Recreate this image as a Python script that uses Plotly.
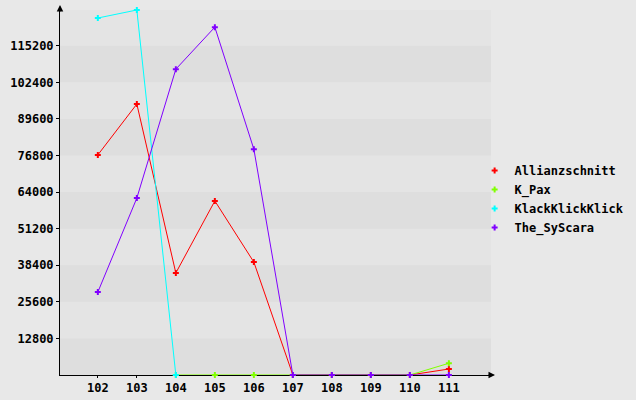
import plotly.graph_objects as go

x_all = [102, 103, 104, 105, 106, 107, 108, 109, 110, 111]

allianz_x = [102, 103, 104, 105, 106, 107, 108, 109, 110, 111]
allianz_y = [77000, 94800, 35700, 60900, 39500, 0, 0, 0, 0, 2100]

kpax_x = [104, 105, 106, 107, 108, 109, 110, 111]
kpax_y = [0, 0, 0, 0, 0, 0, 0, 4100]

klack_x = [102, 103, 104]
klack_y = [124900, 127700, 0]

sys_x = [102, 103, 104, 105, 106, 107, 108, 109, 110, 111]
sys_y = [29000, 61900, 107000, 121700, 79000, 0, 0, 0, 0, 0]

y_ticks = [12800, 25600, 38400, 51200, 64000, 76800, 89600, 102400, 115200]
y_max = 127700

series = [
    ("Allianzschnitt", allianz_x, allianz_y, "#ff0000"),
    ("K_Pax", kpax_x, kpax_y, "#80ff00"),
    ("KlackKlickKlick", klack_x, klack_y, "#00ffff"),
    ("The_SyScara", sys_x, sys_y, "#8000ff"),
]

FONT = dict(family="DejaVu Sans Mono", size=12, color="black", weight="bold")

fig = go.Figure()
for name, xs, ys, col in series:
    fig.add_trace(go.Scatter(
        x=xs, y=ys, mode="lines+markers", name=name, showlegend=False,
        line=dict(color=col, width=1),
        marker=dict(symbol="cross", size=5, color=col),
        cliponaxis=False,
    ))
for name, xs, ys, col in series:
    fig.add_trace(go.Scatter(
        x=[None], y=[None], mode="markers", name=name,
        marker=dict(symbol="cross", size=5, color=col),
    ))

# alternating horizontal bands
step = y_ticks[1] - y_ticks[0]
k = 0
lo = 0
while lo < y_max:
    hi = min(lo + step, y_max)
    if k % 2 == 1:
        fig.add_shape(type="rect", xref="paper", yref="y", x0=0, x1=1, y0=lo, y1=hi,
                      fillcolor="#e4e4e4", line_width=0, layer="below")
    lo += step
    k += 1

# axis arrowheads
fig.add_annotation(xref="paper", yref="paper", x=0, y=1 + 5 / 365, ax=0, ay=8,
                   axref="pixel", ayref="pixel", showarrow=True, arrowhead=2,
                   arrowsize=1.3, arrowwidth=1, arrowcolor="black", text="")
fig.add_annotation(xref="paper", yref="paper", x=1 + 4 / 431, y=0, ax=-8, ay=0,
                   axref="pixel", ayref="pixel", showarrow=True, arrowhead=2,
                   arrowsize=1.3, arrowwidth=1, arrowcolor="black", text="")

fig.update_layout(
    width=636, height=400,
    margin=dict(l=60, r=145, t=10, b=25, pad=0, autoexpand=False),
    paper_bgcolor="#e8e8e8",
    plot_bgcolor="#dedede",
    font=FONT,
    showlegend=True,
    legend=dict(x=0.962, y=1 - (199 - 10) / 365, xanchor="left", yanchor="middle",
                bgcolor="rgba(0,0,0,0)", font=FONT, tracegroupgap=0,
                itemwidth=30),
    xaxis=dict(range=[101.03, 112.08], tickvals=x_all, ticktext=[str(v) for v in x_all],
               showgrid=False, zeroline=False, showline=True, linecolor="black",
               linewidth=1, ticks="outside", ticklen=2, tickcolor="black",
               layer="below traces", tickfont=FONT, fixedrange=True, automargin=False),
    yaxis=dict(range=[0, y_max], tickvals=y_ticks, ticktext=[str(v) for v in y_ticks],
               showgrid=False, zeroline=False, showline=True, linecolor="black",
               linewidth=1, ticks="outside", ticklen=3, tickcolor="black",
               layer="below traces", tickfont=FONT, fixedrange=True, automargin=False),
)

fig.write_html(
    "out.html",
    config={"displayModeBar": False},
    post_script="document.body.style.margin='0';document.body.style.background='#e8e8e8';",
)
